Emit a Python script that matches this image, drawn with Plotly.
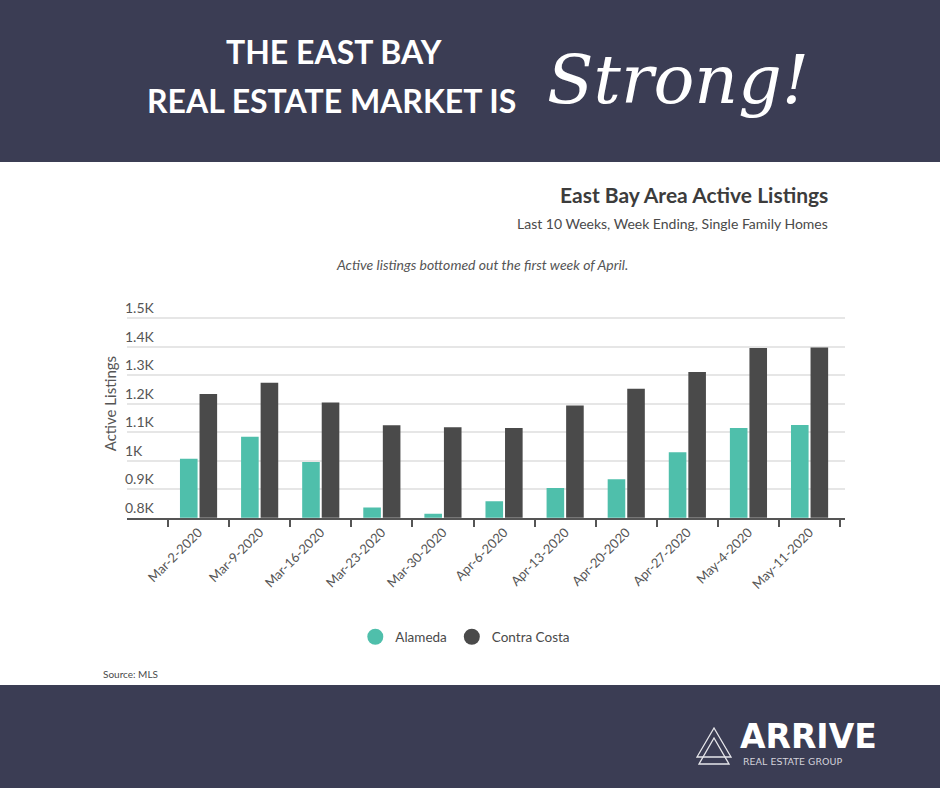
import plotly.graph_objects as go

W, H = 940, 788

# ---- data ----
weeks = ["Mar-2-2020", "Mar-9-2020", "Mar-16-2020", "Mar-23-2020", "Mar-30-2020",
         "Apr-6-2020", "Apr-13-2020", "Apr-20-2020", "Apr-27-2020", "May-4-2020", "May-11-2020"]
alameda = [1007, 1084, 995, 836, 814, 858, 904, 935, 1029, 1114, 1125]
contra_costa = [1234, 1273, 1204, 1124, 1117, 1114, 1193, 1252, 1311, 1395, 1397]
y_tickvals = [800, 900, 1000, 1100, 1200, 1300, 1400, 1500]
y_ticktext = ["0.8K", "0.9K", "1K", "1.1K", "1.2K", "1.3K", "1.4K", "1.5K"]

NAVY = "#3b3d54"
TEAL = "#4fbfab"
DARK = "#4a4a4a"
TXT = "#4a4a4a"
FONT = "Lato, 'Open Sans', sans-serif"
NARROW = "'Liberation Sans Narrow', 'Arial Narrow', Lato, sans-serif"


def px(x):
    return x / W


def py(y):
    return 1 - y / H


fig = go.Figure()
fig.add_trace(go.Bar(x=weeks, y=alameda, name="Alameda", marker=dict(color=TEAL, line=dict(width=0)),
                     showlegend=False))
fig.add_trace(go.Bar(x=weeks, y=contra_costa, name="Contra Costa", marker=dict(color=DARK, line=dict(width=0)),
                     showlegend=False))
# legend entries with round markers
fig.add_trace(go.Scatter(x=[None], y=[None], mode="markers", name="Alameda",
                         marker=dict(symbol="circle", size=16, color=TEAL)))
fig.add_trace(go.Scatter(x=[None], y=[None], mode="markers", name="Contra Costa",
                         marker=dict(symbol="circle", size=16, color=DARK)))

shapes = [
    dict(type="rect", xref="paper", yref="paper", x0=0, x1=1, y0=py(162), y1=1,
         fillcolor=NAVY, line=dict(width=0), layer="below"),
    dict(type="rect", xref="paper", yref="paper", x0=0, x1=1, y0=0, y1=py(685),
         fillcolor=NAVY, line=dict(width=0), layer="below"),
]


def tri(ax, ay, bx, by, cx, cy):
    return dict(type="path", xref="paper", yref="paper",
                path=f"M {px(ax)} {py(ay)} L {px(bx)} {py(by)} L {px(cx)} {py(cy)} Z",
                line=dict(color="#e6e6ea", width=1.3), fillcolor="rgba(0,0,0,0)")


shapes.append(tri(714, 728, 697, 757, 731, 757))
shapes.append(tri(714, 738, 699, 764, 729, 764))

annotations = [
    dict(text="<b>THE EAST BAY</b>", x=px(334), y=py(51), font=dict(family=NARROW, size=32, color="white")),
    dict(text="<b>REAL ESTATE MARKET IS</b>", x=px(331), y=py(100), font=dict(family=NARROW, size=32, color="white")),
    dict(text="Strong!", x=px(678), y=py(80),
         font=dict(family="'DejaVu Serif', serif", size=68, color="white", style="italic")),
    dict(text="<b>East Bay Area Active Listings</b>", x=px(830), y=py(195), xanchor="right",
         font=dict(family=FONT, size=21, color="#3c3c3c")),
    dict(text="Last 10 Weeks, Week Ending, Single Family Homes", x=px(830), y=py(224), xanchor="right",
         font=dict(family=FONT, size=14, color=TXT)),
    dict(text="Active listings bottomed out the first week of April.", x=px(482), y=py(265),
         font=dict(family=FONT, size=14, color="#555555", style="italic")),
    dict(text="Source: MLS", x=px(101), y=py(674), xanchor="left",
         font=dict(family=FONT, size=10, color=TXT)),
    dict(text="<b>ARRIVE</b>", x=px(738), y=py(758), xanchor="left", yanchor="bottom",
         font=dict(family="'DejaVu Sans', sans-serif", size=33, color="white")),
    dict(text="REAL ESTATE GROUP", x=px(741), y=py(754), xanchor="left", yanchor="top",
         font=dict(family="'DejaVu Sans', sans-serif", size=9.5, color="#d4d4dc")),
]
for a in annotations:
    a.update(xref="paper", yref="paper", showarrow=False)
    a.setdefault("xanchor", "center")
    a.setdefault("yanchor", "middle")

# y scale: 800 at 517.7px, 1500 at 318px; extend top a bit so the 1.5K label is visible
Y_TOP = 1600
ppu = (517.7 - 318) / 700.0
y_top_px = 517.7 - (Y_TOP - 800) * ppu

fig.update_layout(
    template="none",
    width=W, height=H,
    margin=dict(l=0, r=0, t=0, b=0),
    paper_bgcolor="white", plot_bgcolor="white",
    barmode="group", bargap=0.36, bargroupgap=0.1,
    shapes=shapes, annotations=annotations,
    legend=dict(orientation="h", x=0.495, xanchor="center", y=py(637), yanchor="middle",
                font=dict(family=FONT, size=13.5, color=TXT), bgcolor="rgba(0,0,0,0)"),
    xaxis=dict(domain=[px(127), px(845)], type="category", range=[-1.171, 10.58],
               tickangle=-45, ticks="outside", tickson="boundaries", ticklen=7,
               tickcolor="#555555", tickwidth=1.5, showline=True, linecolor="#555555", linewidth=2,
               showgrid=False, zeroline=False, automargin=False,
               tickfont=dict(family=FONT, size=13, color="#555555")),
    yaxis=dict(domain=[py(517.7), py(y_top_px)], range=[800, Y_TOP], tickvals=y_tickvals, ticktext=y_ticktext,
               ticklabelposition="inside top", ticklabelstandoff=-5, ticks="", showline=False, zeroline=False,
               gridcolor="#e6e6e6", gridwidth=1.5, automargin=False,
               tickfont=dict(family=FONT, size=14, color="#555555"),
               title=dict(text="Active Listings", standoff=4, font=dict(family=FONT, size=15, color="#555555"))),
)

fig.write_html("out.html", config={"displayModeBar": False},
               post_script="document.body.style.margin='0';document.body.style.overflow='hidden';")
